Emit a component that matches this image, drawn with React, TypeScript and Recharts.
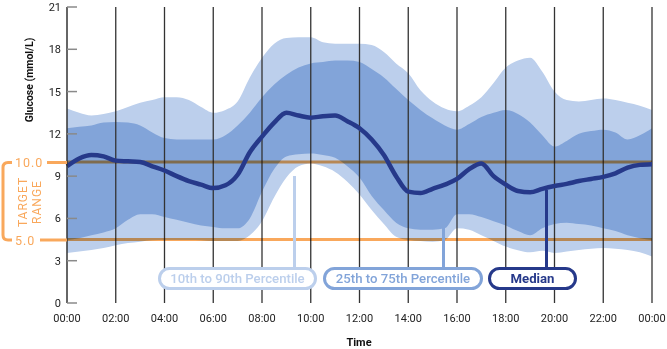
import React from 'react';
import { ComposedChart, Area, Line, XAxis, YAxis, ReferenceLine } from 'recharts';

// half-hour readings, 00:00 to 24:00
const hours = [
  0, 0.5, 1, 1.5, 2, 2.5, 3, 3.5, 4, 4.5, 5, 5.5, 6, 6.5, 7, 7.5, 8, 8.5, 9, 9.5,
  10, 10.5, 11, 11.5, 12, 12.5, 13, 13.5, 14, 14.5, 15, 15.5, 16, 16.5, 17, 17.5,
  18, 18.5, 19, 19.5, 20, 20.5, 21, 21.5, 22, 22.5, 23, 23.5, 24,
];

const p90 = [
  13.8, 13.5, 13.3, 13.4, 13.6, 13.9, 14.2, 14.4, 14.6, 14.6, 14.4, 13.9, 13.5, 13.7, 14.3, 16.0,
  17.4, 18.4, 18.8, 18.85, 18.85, 18.5, 18.4, 18.4, 18.4, 18.3, 17.8, 17.0, 16.3, 15.1, 14.3, 13.8,
  13.6, 14.0, 14.6, 15.6, 16.7, 17.2, 17.4, 16.4, 15.0, 14.4, 14.3, 14.4, 14.5, 14.4, 14.2, 14.0, 13.7,
];

const p75 = [
  12.4, 12.5, 12.6, 12.8, 12.85, 12.8, 12.6, 12.1, 11.7, 11.6, 11.6, 11.6, 11.6, 11.9, 12.6, 13.5,
  14.6, 15.5, 16.2, 16.7, 17.0, 17.1, 17.2, 17.2, 17.1, 16.6, 16.0, 15.2, 14.4, 13.7, 13.1, 12.6,
  12.3, 12.7, 13.2, 13.5, 13.7, 13.4, 12.8, 11.9, 11.1, 11.5, 12.0, 12.2, 12.3, 12.1, 11.6, 11.9, 12.4,
];

const median = [
  9.7, 10.25, 10.5, 10.4, 10.1, 10.05, 10.0, 9.7, 9.4, 9.0, 8.65, 8.4, 8.15, 8.35, 9.1, 10.7,
  11.8, 12.8, 13.5, 13.3, 13.15, 13.25, 13.3, 12.9, 12.4, 11.6, 10.5, 9.0, 7.9, 7.8, 8.1, 8.4,
  8.8, 9.5, 9.9, 9.0, 8.4, 7.95, 7.85, 8.1, 8.3, 8.45, 8.65, 8.8, 8.95, 9.2, 9.6, 9.8, 9.85,
];

const p25 = [
  4.47, 4.6, 4.8, 5.0, 5.3, 5.9, 6.3, 6.3, 6.1, 5.9, 5.7, 5.5, 5.4, 5.3, 5.3, 6.0,
  7.9, 9.5, 10.4, 10.55, 10.6, 10.5, 10.3, 9.7, 8.9, 7.6, 6.6, 5.7, 5.3, 5.2, 5.2, 5.3,
  6.3, 6.3, 6.1, 5.8, 5.5, 5.1, 4.8, 5.3, 5.6, 5.7, 5.6, 5.5, 5.3, 5.1, 4.8, 4.6, 4.47,
];

const p10 = [
  3.55, 3.65, 3.76, 3.9, 4.1, 4.25, 4.35, 4.45, 4.47, 4.47, 4.47, 4.45, 4.4, 4.4, 4.4, 4.8,
  5.8, 7.5, 8.9, 9.7, 9.9, 9.7, 9.3, 8.6, 7.7, 6.6, 5.6, 4.7, 4.47, 4.4, 4.35, 4.47,
  5.3, 5.2, 4.8, 4.4, 4.0, 3.75, 3.6, 3.7, 3.55, 3.65, 3.76, 3.85, 3.9, 3.85, 3.76, 3.6, 3.3,
];

const timeTicks = [0, 2, 4, 6, 8, 10, 12, 14, 16, 18, 20, 22, 24];
const timeLabels = ['00:00', '02:00', '04:00', '06:00', '08:00', '10:00', '12:00', '14:00', '16:00', '18:00', '20:00', '22:00', '00:00'];
const glucoseTicks = [0, 3, 6, 9, 12, 15, 18, 21];

// where the target lines sit on the glucose scale, and what they're labelled
const targetLevels = [10, 4.5];
const targetLabels = ['10.0', '5.0'];

const legendLabels = ['10th to 90th Percentile', '25th to 75th Percentile', 'Median'];

const LIGHT = '#bccfec';
const MID = '#82a4d9';
const NAVY = '#26398a';
const ORANGE = '#f9a85c';

const AXIS_X = 67;
const FONT = 'Roboto, sans-serif';

const data = hours.map((h, i) => ({
  h,
  outer: [p10[i], p90[i]],
  inner: [p25[i], p75[i]],
  median: median[i],
}));

const GlucoseTick = (props: any) => {
  const { y, payload } = props;
  return (
    <g>
      <line x1={AXIS_X} x2={AXIS_X + 10} y1={y} y2={y} stroke="#8a8a8a" strokeWidth={1.5} />
      <text x={61} y={y} dy={4} textAnchor="end" fontSize={11} fill="#222" fontFamily={FONT}>
        {payload.value}
      </text>
    </g>
  );
};

const LegendBox = ({ label, left, width, color, bold }: any) => (
  <div
    style={{
      position: 'absolute',
      left,
      top: 267,
      width,
      height: 23,
      boxSizing: 'border-box',
      border: `3px solid ${color}`,
      borderRadius: 12,
      background: '#fff',
      color,
      fontSize: 13.2,
      fontWeight: bold ? 700 : 500,
      lineHeight: '17px',
      textAlign: 'center',
      fontFamily: FONT,
    }}
  >
    {label}
  </div>
);

const Pointer = ({ left, top, color }: any) => (
  <div style={{ position: 'absolute', left: left - 1.5, top, width: 3, height: 268 - top, background: color }} />
);

export default function App() {
  return (
    <div style={{ position: 'absolute', left: 0, top: 0, width: 667, height: 349, background: '#fff', fontFamily: FONT }}>
      <style>{`.target-line line { mix-blend-mode: multiply; }`}</style>
      <ComposedChart width={667} height={349} data={data} margin={{ top: 7, right: 15, bottom: 0, left: 0 }}>
        <XAxis
          dataKey="h"
          type="number"
          domain={[0, 24]}
          ticks={timeTicks}
          interval={0}
          tickFormatter={(v: number) => timeLabels[timeTicks.indexOf(v)]}
          axisLine={false}
          tickLine={false}
          tickSize={0}
          tickMargin={11}
          height={46}
          tick={{ fontSize: 11, fill: '#222', fontFamily: FONT }}
        />
        <YAxis
          type="number"
          domain={[0, 21]}
          ticks={glucoseTicks}
          interval={0}
          width={67}
          axisLine={{ stroke: '#333', strokeWidth: 1.5 }}
          tickLine={false}
          tick={<GlucoseTick />}
        />
        <Area dataKey="outer" type="monotone" stroke="none" fill={LIGHT} fillOpacity={1} isAnimationActive={false} />
        <Area dataKey="inner" type="monotone" stroke="none" fill={MID} fillOpacity={1} isAnimationActive={false} />
        {timeTicks.slice(1).map((t) => (
          <ReferenceLine key={t} x={t} stroke="#333" strokeWidth={1.3} />
        ))}
        {targetLevels.map((v) => (
          <ReferenceLine key={v} y={v} stroke={ORANGE} strokeWidth={3} className="target-line" />
        ))}
        <Line
          dataKey="median"
          type="monotone"
          stroke={NAVY}
          strokeWidth={4.5}
          dot={false}
          activeDot={false}
          isAnimationActive={false}
        />
      </ComposedChart>

      <svg width={667} height={349} style={{ position: 'absolute', left: 0, top: 0, pointerEvents: 'none' }}>
        <text transform="translate(33,80) rotate(-90)" textAnchor="middle" fontSize={10.5} fontWeight={700} fill="#111" fontFamily={FONT}>
          Glucose (mmol/L)
        </text>
        <text x={359} y={346} textAnchor="middle" fontSize={11} fontWeight={700} fill="#111" fontFamily={FONT}>
          Time
        </text>
        <path d="M 12 162.5 H 8 Q 3 162.5 3 167.5 V 235 Q 3 240 8 240 H 12" fill="none" stroke={ORANGE} strokeWidth={3} />
        <text x={15} y={167} fontSize={12.5} fill={ORANGE} letterSpacing={1} fontFamily={FONT}>{targetLabels[0]}</text>
        <line x1={47} x2={AXIS_X} y1={162.5} y2={162.5} stroke={ORANGE} strokeWidth={3} />
        <text x={15} y={244.5} fontSize={12.5} fill={ORANGE} letterSpacing={1} fontFamily={FONT}>{targetLabels[1]}</text>
        <line x1={40} x2={AXIS_X} y1={240} y2={240} stroke={ORANGE} strokeWidth={3} />
        <text transform="translate(27,202) rotate(-90)" textAnchor="middle" fontSize={12} fill={ORANGE} letterSpacing={1} fontFamily={FONT}>TARGET</text>
        <text transform="translate(41,202) rotate(-90)" textAnchor="middle" fontSize={12} fill={ORANGE} letterSpacing={1} fontFamily={FONT}>RANGE</text>
      </svg>

      <Pointer left={294} top={176} color={LIGHT} />
      <Pointer left={443} top={223} color={MID} />
      <Pointer left={546} top={190} color={NAVY} />
      <LegendBox label={legendLabels[0]} left={158} width={159} color={LIGHT} />
      <LegendBox label={legendLabels[1]} left={323} width={160} color={MID} />
      <LegendBox label={legendLabels[2]} left={488} width={89} color={NAVY} bold />
    </div>
  );
}
